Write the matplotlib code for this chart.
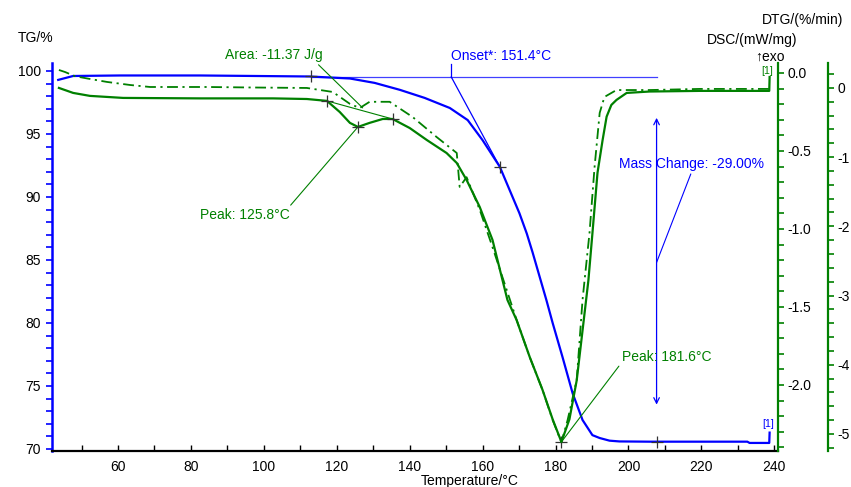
import matplotlib
matplotlib.use("Agg")
import matplotlib.pyplot as plt
from matplotlib.ticker import MultipleLocator

plt.rcParams['font.family'] = ['Liberation Sans', 'DejaVu Sans']
plt.rcParams['font.size'] = 10

BLUE = '#0000ff'
GREEN = '#008000'

# TG curve (mass %, left axis)
tg_temp = [43.6, 47.7, 60.5, 82.5, 112.6, 123.6, 130.4, 137.3, 144.1, 151.0,
           155.9, 160.0, 164.7, 170.1, 172.1, 173.7, 177.5, 179.2, 181.9,
           184.7, 187.4, 190.1, 192.1, 194.8, 197.5, 205.8, 232.6, 233.2, 238.6,
           238.7]
tg_mass = [99.29, 99.60, 99.64, 99.64, 99.56, 99.40, 99.05, 98.50, 97.86, 97.06,
           96.10, 94.50, 92.40, 88.70, 87.10, 85.60, 81.80, 80.00, 77.30,
           74.40, 72.30, 71.10, 70.87, 70.66, 70.60, 70.58, 70.58, 70.48, 70.48,
           71.30]

# DSC curve (mW/mg, first right axis)
dsc_temp = [43.8, 47.7, 52.3, 61.4, 82.5, 102.5, 111.8, 117.3, 120.8, 123.6,
            125.8, 129.0, 132.6, 135.3, 140.0, 144.7, 150.1, 152.9, 155.6,
            159.2, 162.7, 166.8, 169.3, 172.9, 176.4, 179.2, 181.6, 183.8,
            185.8, 187.4, 189.0, 190.1, 191.5, 192.9, 194.0, 195.3, 196.7,
            199.5, 205.8, 219.5, 238.6, 238.7]
dsc_val = [-0.096, -0.128, -0.147, -0.160, -0.163, -0.163, -0.167, -0.179, -0.250, -0.320,
           -0.346, -0.320, -0.295, -0.295, -0.353, -0.430, -0.513, -0.577, -0.686,
           -0.859, -1.070, -1.455, -1.583, -1.820, -2.030, -2.220, -2.365, -2.220,
           -1.970, -1.650, -1.330, -1.030, -0.640, -0.430, -0.280, -0.205, -0.173,
           -0.128, -0.119, -0.115, -0.115, -0.026]

# DTG curve (%/min, second right axis)
dtg_temp = [43.8, 45.5, 48.2, 52.3, 57.0, 63.3, 68.8, 84.4, 96.2, 111.8, 118.9,
            123.6, 126.3, 129.0, 134.5, 140.8, 147.4, 152.9, 153.7, 155.6,
            159.2, 162.7, 166.6, 169.3, 172.9, 176.4, 179.2, 181.6, 183.3,
            185.8, 187.4, 189.3, 190.7, 192.1, 193.4, 196.7, 205.8, 219.5, 238.6]
dtg_val = [0.26, 0.23, 0.17, 0.13, 0.087, 0.043, 0.014, 0.014, 0.007, 0.0, -0.058,
           -0.23, -0.29, -0.20, -0.20, -0.42, -0.71, -0.94, -1.43, -1.29,
           -1.76, -2.30, -2.92, -3.35, -3.89, -4.36, -4.80, -5.12, -4.80,
           -4.22, -3.06, -2.10, -1.14, -0.36, -0.13, -0.03, -0.03, -0.014, -0.014]

# evaluation results
onset_temp, onset_base, onset_end = 151.4, 99.52, (164.7, 92.4)
base_start, base_stop = 112.9, 207.7
mass_change = -29.00
mass_temp, mass_top, mass_bottom = 207.7, 96.5, 73.3
peak1 = (125.8, -0.346)
peak2 = (181.6, -2.365)
area_start = (117.3, -0.179)
area_stop = (135.3, -0.295)
area = -11.37

W, H = 851, 487
fig = plt.figure(figsize=(W / 100, H / 100), dpi=100)
ax = fig.add_axes([52 / W, (H - 450.5) / H, 726 / W, 388 / H])
ax_dsc = ax.twinx()
ax_dtg = ax.twinx()
ax_dtg.spines['right'].set_position(('outward', 36))

ax.plot(tg_temp, tg_mass, color=BLUE, lw=1.6, zorder=3)
ax_dsc.plot(dsc_temp, dsc_val, color=GREEN, lw=1.6)
ax_dtg.plot(dtg_temp, dtg_val, color=GREEN, lw=1.3, ls=(0, (6, 2.5, 1.2, 2.5)))

ax.set_xlim(41.9, 241.0)
ax.set_ylim(69.88, 100.67)
ax_dsc.set_ylim(-2.42, 0.067)
ax_dtg.set_ylim(-5.24, 0.368)

for a in (ax, ax_dsc, ax_dtg):
    a.spines['top'].set_visible(False)
    a.patch.set_visible(False)
ax.spines['right'].set_visible(False)
ax_dsc.spines['left'].set_visible(False)
ax_dtg.spines['left'].set_visible(False)
ax_dsc.spines['bottom'].set_visible(False)
ax_dtg.spines['bottom'].set_visible(False)

ax.spines['left'].set_color(BLUE)
ax.spines['left'].set_linewidth(1.8)
ax.spines['bottom'].set_linewidth(1.6)
ax_dsc.spines['right'].set_color(GREEN)
ax_dsc.spines['right'].set_linewidth(1.6)
ax_dtg.spines['right'].set_color(GREEN)
ax_dtg.spines['right'].set_linewidth(1.6)

ax.xaxis.set_major_locator(MultipleLocator(20))
ax.xaxis.set_minor_locator(MultipleLocator(10))
ax.tick_params(axis='x', which='both', direction='in', length=4, width=1, pad=6.5)
ax.yaxis.set_major_locator(MultipleLocator(5))
ax.yaxis.set_minor_locator(MultipleLocator(1))
ax.tick_params(axis='y', which='both', direction='out', length=4, width=1.2,
               color=BLUE, pad=4)

ax_dsc.yaxis.set_major_locator(MultipleLocator(0.5))
ax_dsc.yaxis.set_minor_locator(MultipleLocator(0.1))
ax_dsc.yaxis.set_major_formatter(lambda v, p: f'{v:.1f}')
ax_dsc.tick_params(axis='y', which='both', direction='out', length=4, width=1.2,
                   color=GREEN, pad=3)

ax_dtg.yaxis.set_major_locator(MultipleLocator(1))
ax_dtg.yaxis.set_minor_locator(MultipleLocator(0.2))
ax_dtg.yaxis.set_major_formatter(lambda v, p: f'{v:.0f}')
ax_dtg.tick_params(axis='y', which='both', direction='out', length=4, width=1.2,
                   color=GREEN, pad=3)

# axis titles
fig.text(18 / W, 1 - 38 / H, 'TG/%', ha='left', va='center')
fig.text(843 / W, 1 - 20 / H, 'DTG/(%/min)', ha='right', va='center')
fig.text(797 / W, 1 - 40 / H, 'DSC/(mW/mg)', ha='right', va='center')
fig.text(785 / W, 1 - 57 / H, '\u2191exo', ha='right', va='center')
fig.text(470 / W, 1 - 481 / H, 'Temperature/\u00b0C', ha='center', va='center')

# onset evaluation on TG
ax.plot([base_start, base_stop], [onset_base, onset_base], color='#4040ff', lw=0.9)
ax.plot([onset_temp, onset_end[0]], [onset_base, onset_end[1]], color=BLUE, lw=0.9)
ax.plot([onset_temp, onset_temp], [onset_base, 100.55], color=BLUE, lw=0.9)
ax.text(onset_temp, 100.6, f'Onset*: {onset_temp}\u00b0C', color=BLUE,
        ha='left', va='bottom')
ax.plot([base_start, onset_end[0], mass_temp], [tg_mass[4], onset_end[1], 70.58],
        ls='none', marker='+', ms=9, mew=0.9, color='#333333', zorder=5)

# mass change arrow
ax.annotate('', xy=(mass_temp, mass_bottom), xytext=(mass_temp, mass_top),
            arrowprops=dict(arrowstyle='<->', color=BLUE, lw=0.9,
                            mutation_scale=10))
ax.annotate(f'Mass Change: {mass_change:.2f}%', xy=(mass_temp, 84.8),
            xytext=(197.5, 92.6), color=BLUE, ha='left', va='center',
            arrowprops=dict(arrowstyle='-', color=BLUE, lw=0.8,
                            shrinkA=0, shrinkB=0, relpos=(0.5, 0)))
ax.text(238.4, 71.6, '[1]', color=BLUE, fontsize=7.5, ha='center', va='bottom')

# DSC peak evaluation
ax_dsc.plot([area_start[0], area_stop[0]], [area_start[1], area_stop[1]],
            color=GREEN, lw=0.8)
ax_dsc.plot([area_start[0], peak1[0], area_stop[0], peak2[0]],
            [area_start[1], peak1[1], area_stop[1], peak2[1]],
            ls='none', marker='+', ms=9, mew=0.9, color='#333333', zorder=5)
ax_dsc.annotate(f'Area: {area} J/g', xy=(127.1, -0.224), xytext=(102.7, 0.115),
                color=GREEN, ha='center', va='center',
                arrowprops=dict(arrowstyle='-', color=GREEN, lw=0.8,
                                shrinkA=0, shrinkB=0, relpos=(0.93, 0)))
ax_dsc.annotate(f'Peak: {peak1[0]}\u00b0C', xy=peak1, xytext=(94.8, -0.91),
                color=GREEN, ha='center', va='center',
                arrowprops=dict(arrowstyle='-', color=GREEN, lw=0.8,
                                shrinkA=0, shrinkB=0, relpos=(0.97, 0.9)))
ax_dsc.annotate(f'Peak: {peak2[0]}\u00b0C', xy=peak2, xytext=(210.4, -1.82),
                color=GREEN, ha='center', va='center',
                arrowprops=dict(arrowstyle='-', color=GREEN, lw=0.8,
                                shrinkA=0, shrinkB=0, relpos=(0.0, 0.1)))
ax_dsc.text(238.0, -0.02, '[1]', color=GREEN, fontsize=7.5, ha='center', va='bottom')

fig.savefig('out.png', dpi=100)
